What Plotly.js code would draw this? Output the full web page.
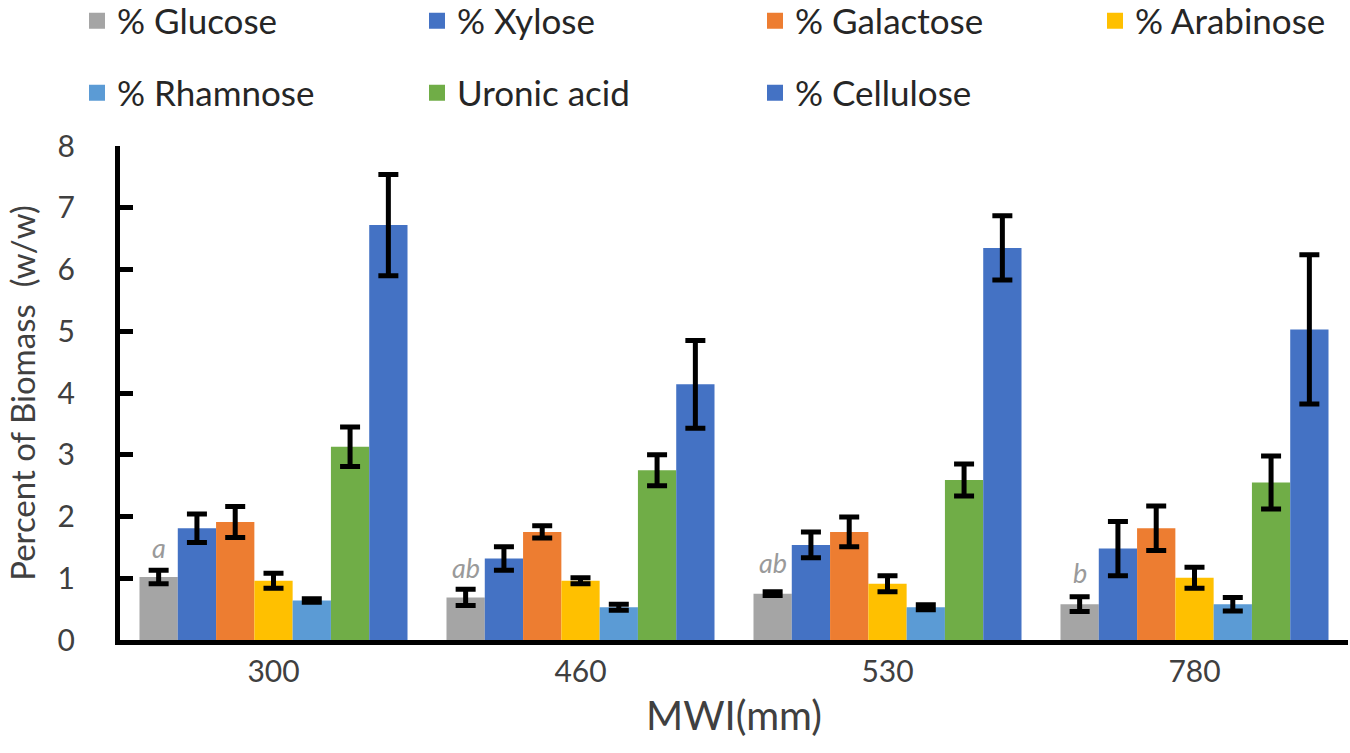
<!DOCTYPE html>
<html>
<head>
<meta charset="utf-8">
<script src="https://cdn.plot.ly/plotly-3.0.1.min.js"></script>
<style>
html, body { margin: 0; padding: 0; background: #fff; }
#chart { width: 1350px; height: 753px; }
</style>
</head>
<body>
<div id="chart"></div>
<script>
// MWI categories (mm)
var mwi = ['300', '460', '530', '780'];

var seriesNames = ['% Glucose', '% Xylose', '% Galactose', '% Arabinose',
	'% Rhamnose', 'Uronic acid', '% Cellulose'];
var seriesColors = ['#A5A5A5', '#4472C4', '#ED7D31', '#FFC000',
	'#5B9BD5', '#70AD47', '#4472C4'];

// mean values
var glucose   = [1.02, 0.69, 0.75, 0.58];
var xylose    = [1.81, 1.32, 1.54, 1.48];
var galactose = [1.91, 1.75, 1.75, 1.81];
var arabinose = [0.96, 0.96, 0.91, 1.01];
var rhamnose  = [0.64, 0.53, 0.53, 0.58];
var uronic    = [3.13, 2.75, 2.59, 2.55];
var cellulose = [6.72, 4.14, 6.35, 5.03];

// error bar half-lengths
var glucoseErr   = [0.11, 0.13, 0.03, 0.12];
var xyloseErr    = [0.23, 0.19, 0.21, 0.44];
var galactoseErr = [0.25, 0.10, 0.24, 0.36];
var arabinoseErr = [0.12, 0.05, 0.13, 0.17];
var rhamnoseErr  = [0.03, 0.05, 0.04, 0.11];
var uronicErr    = [0.32, 0.25, 0.26, 0.43];
var celluloseErr = [0.82, 0.71, 0.52, 1.21];

// significance letters over the glucose bars
var glucoseLetters = ['a', 'ab', 'ab', 'b'];
var letterY = [1.5, 1.18, 1.25, 1.1];

var values = [glucose, xylose, galactose, arabinose, rhamnose, uronic, cellulose];
var errors = [glucoseErr, xyloseErr, galactoseErr, arabinoseErr, rhamnoseErr, uronicErr, celluloseErr];

var font = 'Lato, "Open Sans", sans-serif';
var bargap = 0.127;

// plot area in pixels, used to place the legend items
var plotL = 120, plotR = 2, plotT = 146, plotB = 113;
var plotW = 1350 - plotL - plotR, plotH = 753 - plotT - plotB;
// left edge of each legend swatch and row centre (px)
var legendLeft = [87, 427, 765, 1105, 87, 427, 765];
var legendRow = [21, 21, 21, 21, 93, 93, 93];

var traces = [];
for(var i = 0; i < seriesNames.length; i++){
	traces.push({
		type: 'bar',
		name: seriesNames[i],
		x: mwi,
		y: values[i],
		marker: {color: seriesColors[i]},
		error_y: {
			type: 'data',
			array: errors[i],
			visible: true,
			color: '#000',
			thickness: 5,
			width: 10
		},
		showlegend: false
	});
}
// legend-only entries so the swatches can be bigger squares
for(var j = 0; j < seriesNames.length; j++){
	traces.push({
		type: 'scatter',
		mode: 'markers',
		name: seriesNames[j],
		x: [null],
		y: [null],
		marker: {symbol: 'square', size: 18, color: seriesColors[j]},
		legend: j === 0 ? 'legend' : 'legend' + (j + 1),
		showlegend: true
	});
}

var barW = (1 - bargap) / seriesNames.length;
var annotations = [];
for(var k = 0; k < mwi.length; k++){
	annotations.push({
		xref: 'x',
		yref: 'y',
		x: k - 3 * barW,
		y: letterY[k],
		text: '<i>' + glucoseLetters[k] + '</i>',
		showarrow: false,
		font: {family: font, size: 27, color: '#9a9a9a'}
	});
}

var layout = {
	width: 1350,
	height: 753,
	margin: {l: plotL, r: plotR, t: plotT, b: plotB, autoexpand: false},
	paper_bgcolor: '#fff',
	plot_bgcolor: '#fff',
	barmode: 'group',
	bargap: bargap,
	bargroupgap: 0,
	showlegend: true,
	xaxis: {
		type: 'category',
		showline: true,
		linecolor: '#000',
		linewidth: 5,
		ticks: '',
		showgrid: false,
		ticklabelstandoff: 1,
		tickfont: {family: font, size: 30, color: '#404040'},
		title: {text: 'MWI(mm)', font: {family: font, size: 40, color: '#404040'}, standoff: 16}
	},
	yaxis: {
		range: [0, 8],
		dtick: 1,
		showline: true,
		linecolor: '#000',
		linewidth: 5,
		ticks: 'inside',
		ticklen: 13,
		tickwidth: 5,
		tickcolor: '#000',
		showgrid: false,
		zeroline: false,
		ticklabelstandoff: 34,
		tickfont: {family: font, size: 30, color: '#404040'},
		title: {text: 'Percent of Biomass  (w/w)', font: {family: font, size: 33, color: '#404040'}, standoff: 14}
	},
	annotations: annotations
};

for(var m = 0; m < seriesNames.length; m++){
	layout[m === 0 ? 'legend' : 'legend' + (m + 1)] = {
		xref: 'paper',
		yref: 'paper',
		xanchor: 'left',
		yanchor: 'middle',
		x: (legendLeft[m] - 10 - plotL) / plotW,
		y: 1 + (plotT - legendRow[m]) / plotH,
		font: {family: font, size: 35, color: '#262626'},
		bgcolor: 'rgba(0,0,0,0)',
		itemclick: false
	};
}

Plotly.newPlot('chart', traces, layout, {displayModeBar: false, staticPlot: true});
</script>
</body>
</html>
